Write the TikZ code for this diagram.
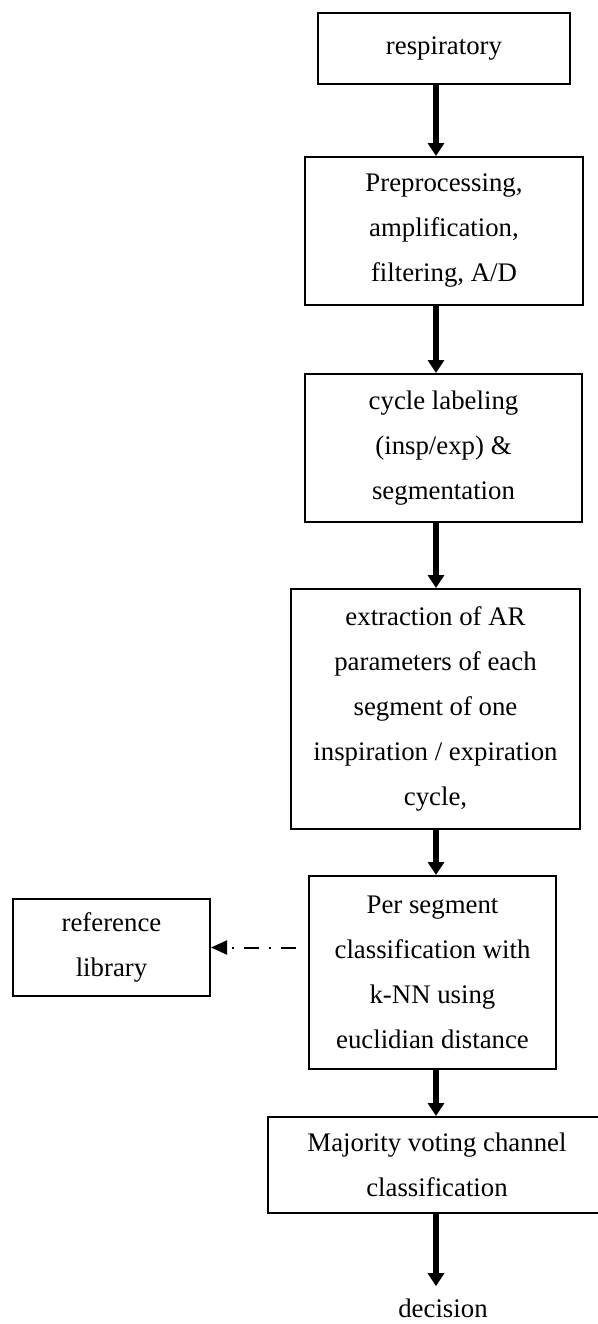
\documentclass[tikz,border=0pt]{standalone}
\usepackage{fontspec}
\setmainfont{Liberation Serif}
\usetikzlibrary{arrows.meta}
\begin{document}
\begin{tikzpicture}[x=0.5pt,y=-0.5pt,
	box/.style={draw,line width=1pt,align=center,inner sep=0pt,font=\fontsize{13.4}{22.5}\selectfont},
	flow/.style={-{Triangle[length=6.5pt,width=8pt]},line width=2.6pt},
	lookup/.style={-{Triangle[length=8pt,width=7pt]},line width=1pt,dash pattern=on 7.5pt off 5pt on 1pt off 5pt}]
	\clip (0,0) rectangle (598,1324);
	\coordinate (axis) at (436,0);
	\node[box,name=b1,minimum width=126pt,minimum height=35.5pt]at(444,48.5){respiratory};
	\node[box,name=b2,minimum width=139pt,minimum height=74pt]at(444,231){Preprocessing,\\amplification,\\filtering, A/D};
	\node[box,name=b3,minimum width=138.5pt,minimum height=74pt]at(443.5,448){cycle labeling\\(insp/exp) \&\\segmentation};
	\node[box,name=b4,minimum width=144.5pt,minimum height=120pt]at(435.5,709){extraction of AR\\parameters of each\\segment of one\\inspiration / expiration\\cycle,};
	\node[box,name=b5,minimum width=123.5pt,minimum height=96.5pt]at(432.5,972.5){Per segment\\classification with\\k-NN using\\euclidian distance};
	\node[box,name=ref,minimum width=98.5pt,minimum height=48.5pt]at(111.5,947.5){reference\\library};
	\node[box,name=b6,minimum width=169pt,minimum height=48pt]at(437,1165){Majority voting channel\\classification};
	\node[font=\fontsize{13.4}{22.5}\selectfont,inner sep=6pt,name=dec]at(443,1308){decision};
	\draw[flow](axis|-b1.south)--(axis|-b2.north);
	\draw[flow](axis|-b2.south)--(axis|-b3.north);
	\draw[flow](axis|-b3.south)--(axis|-b4.north);
	\draw[flow](axis|-b4.south)--(axis|-b5.north);
	\draw[flow](axis|-b5.south)--(axis|-b6.north);
	\draw[flow](axis|-b6.south)--(axis|-dec.north);
	\coordinate (gap) at (296,947.5);
	\draw[lookup](gap)--(ref);
\end{tikzpicture}
\end{document}
